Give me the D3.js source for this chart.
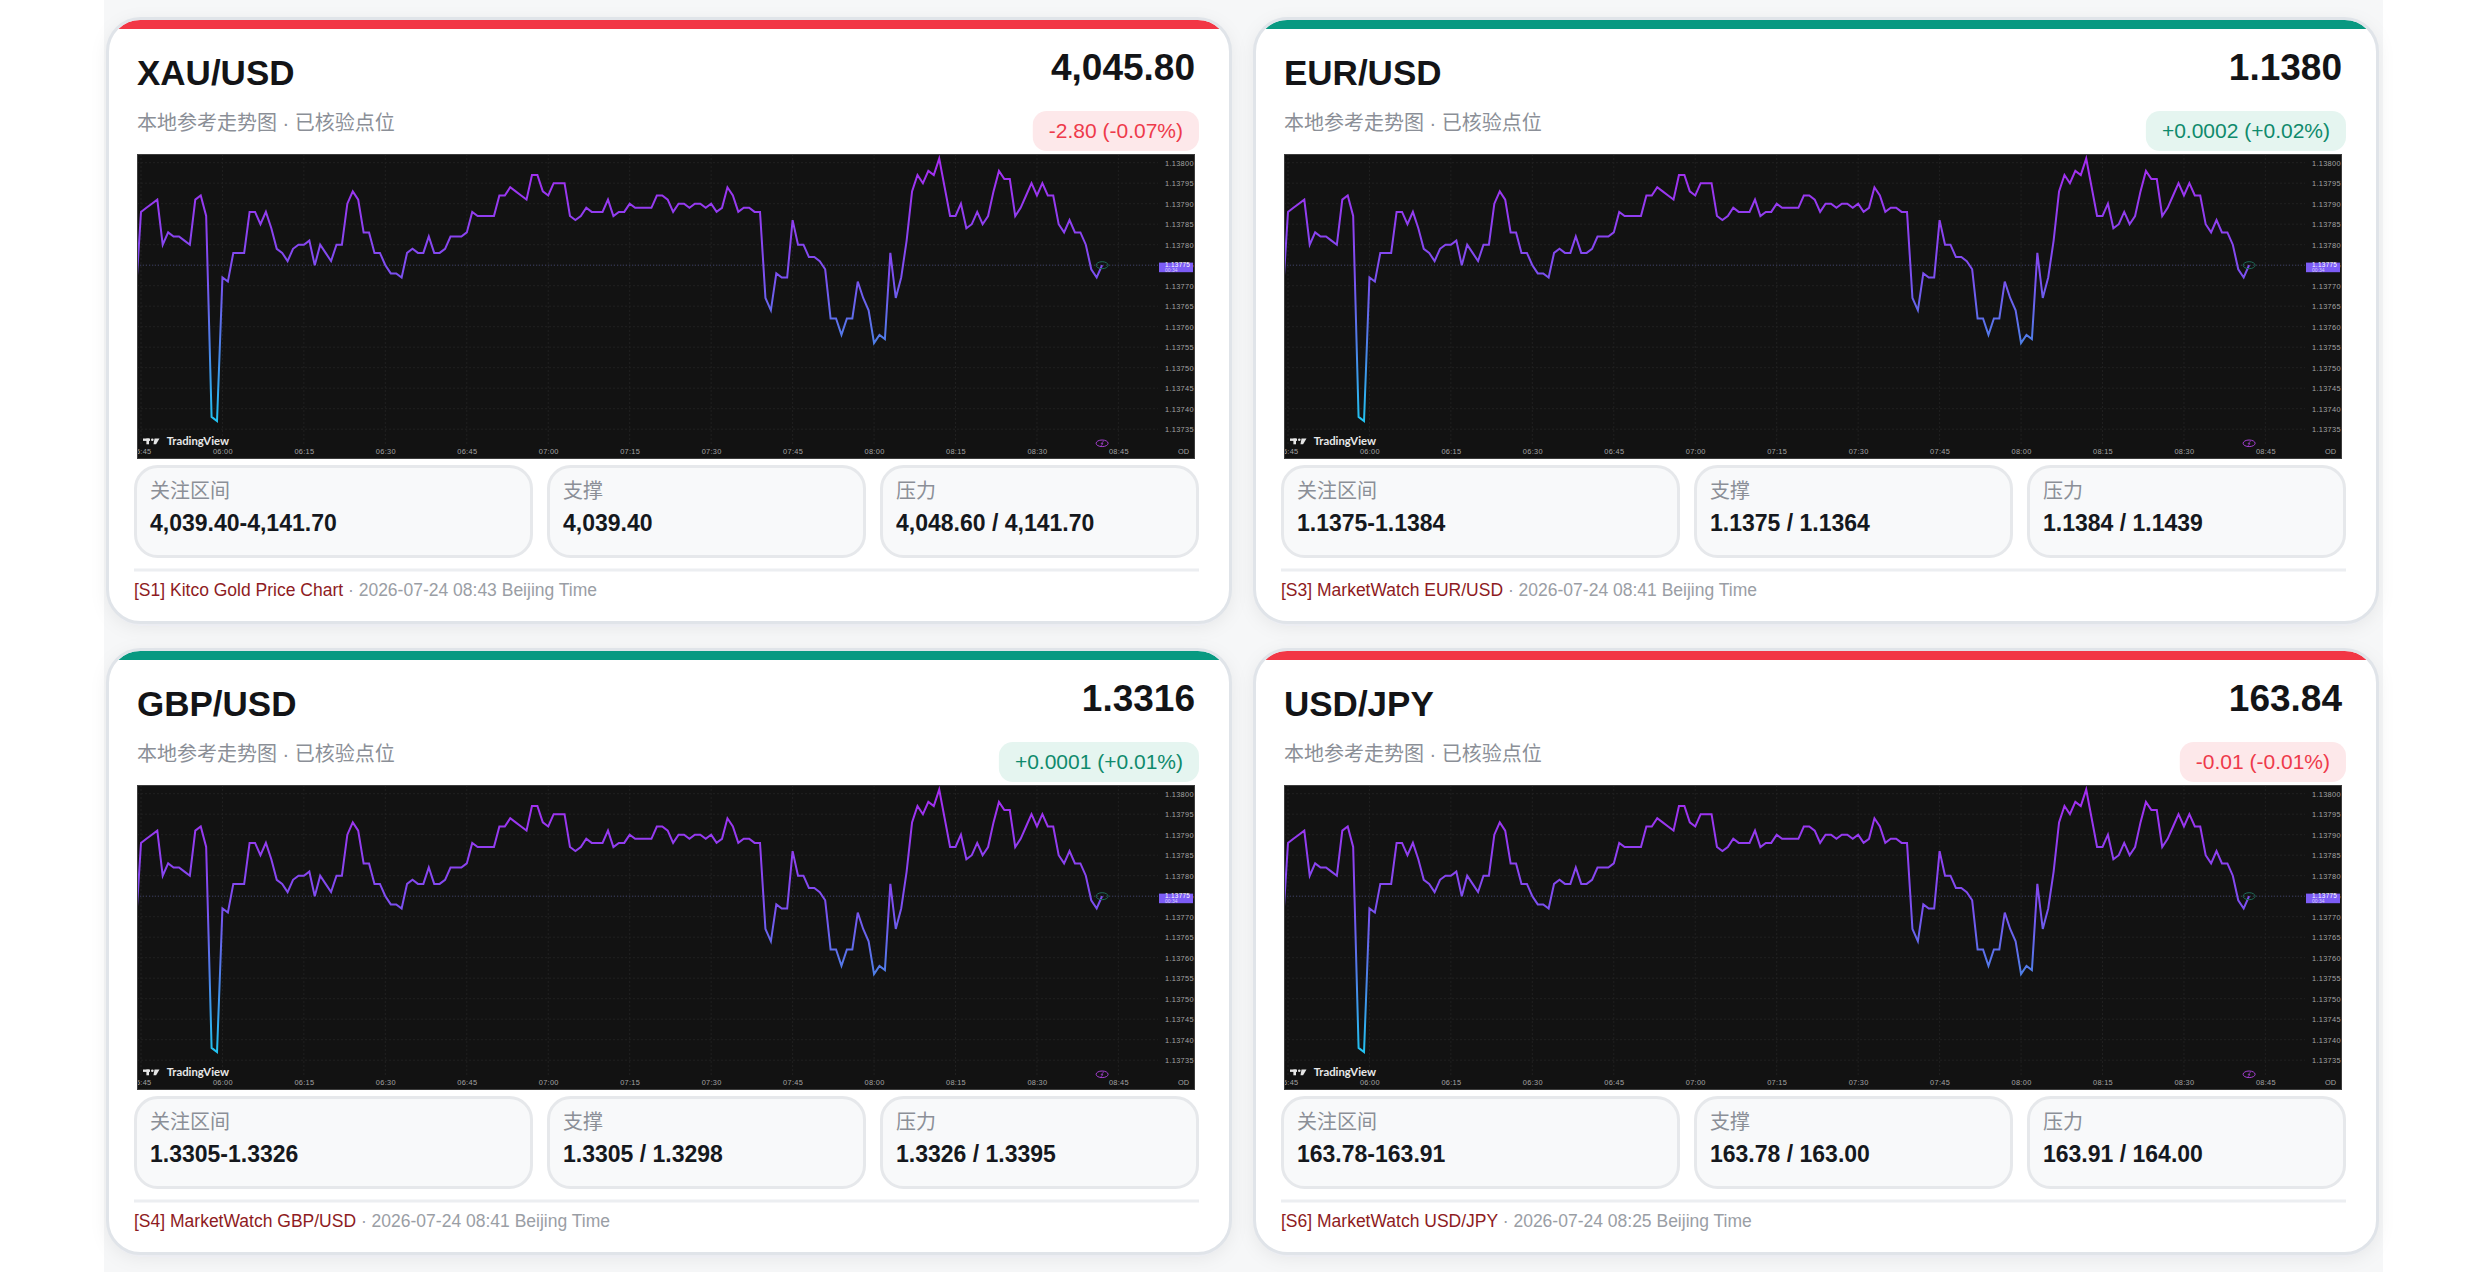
<!DOCTYPE html>
<html>
<head>
<meta charset="utf-8">
<script src="https://cdn.jsdelivr.net/npm/d3@7"></script>
<style>
body{margin:0;background:#fff}
svg{display:block}
</style>
</head>
<body>
<script>
// card content
const pairs = ['XAU/USD', 'EUR/USD', 'GBP/USD', 'USD/JPY']
const prices = ['4,045.80', '1.1380', '1.3316', '163.84']
const changes = ['-2.80 (-0.07%)', '+0.0002 (+0.02%)', '+0.0001 (+0.01%)', '-0.01 (-0.01%)']
const directions = ['down', 'up', 'up', 'down']
const zoneRanges = ['4,039.40-4,141.70', '1.1375-1.1384', '1.3305-1.3326', '163.78-163.91']
const supports = ['4,039.40', '1.1375 / 1.1364', '1.3305 / 1.3298', '163.78 / 163.00']
const resistances = ['4,048.60 / 4,141.70', '1.1384 / 1.1439', '1.3326 / 1.3395', '163.91 / 164.00']
const sources = ['[S1] Kitco Gold Price Chart', '[S3] MarketWatch EUR/USD', '[S4] MarketWatch GBP/USD', '[S6] MarketWatch USD/JPY']
const stamps = ['2026-07-24 08:43', '2026-07-24 08:41', '2026-07-24 08:41', '2026-07-24 08:25']
const boxLabels = ['关注区间', '支撑', '压力']

// the embedded 1-minute trend line (same picture in every card)
const lineStart = '05:44'
const lineValues = [
  1.13767, 1.13788, 1.13789, 1.13790, 1.13791, 1.13780, 1.13783, 1.13782, 1.13782, 1.13781,
  1.13780, 1.13791, 1.13792, 1.13787, 1.13738, 1.13737, 1.13772, 1.13771, 1.13778, 1.13778,
  1.13778, 1.13788, 1.13788, 1.13785, 1.13788, 1.13784, 1.13779, 1.13778, 1.13776, 1.13779,
  1.13780, 1.13780, 1.13781, 1.13775, 1.13780, 1.13778, 1.13776, 1.13780, 1.13780, 1.13790,
  1.13793, 1.13791, 1.13783, 1.13783, 1.13778, 1.13778, 1.13775, 1.13773, 1.13773, 1.13772,
  1.13778, 1.13779, 1.13778, 1.13778, 1.13782, 1.13778, 1.13778, 1.13779, 1.13782, 1.13782,
  1.13782, 1.13783, 1.13788, 1.13787, 1.13787, 1.13787, 1.13787, 1.13792, 1.13792, 1.13794,
  1.13793, 1.13792, 1.13791, 1.13797, 1.13797, 1.13793, 1.13792, 1.13795, 1.13795, 1.13795,
  1.13787, 1.13786, 1.13787, 1.13789, 1.13788, 1.13788, 1.13788, 1.13791, 1.13787, 1.13788,
  1.13788, 1.13790, 1.13789, 1.13789, 1.13789, 1.13789, 1.13792, 1.13792, 1.13791, 1.13788,
  1.13790, 1.13790, 1.13789, 1.13790, 1.13790, 1.13789, 1.13790, 1.13788, 1.13789, 1.13794,
  1.13792, 1.13788, 1.13789, 1.13789, 1.13788, 1.13788, 1.13767, 1.13764, 1.13773, 1.13772,
  1.13772, 1.13786, 1.13780, 1.13780, 1.13777, 1.13777, 1.13776, 1.13774, 1.13762, 1.13762,
  1.13758, 1.13762, 1.13762, 1.13771, 1.13767, 1.13764, 1.13756, 1.13758, 1.13757, 1.13778,
  1.13767, 1.13772, 1.13781, 1.13793, 1.13797, 1.13795, 1.13798, 1.13797, 1.13801, 1.13794,
  1.13787, 1.13787, 1.13790, 1.13784, 1.13785, 1.13788, 1.13785, 1.13787, 1.13793, 1.13798,
  1.13796, 1.13796, 1.13787, 1.13789, 1.13792, 1.13795, 1.13792, 1.13795, 1.13792, 1.13792,
  1.13785, 1.13783, 1.13786, 1.13783, 1.13783, 1.13780, 1.13774, 1.13772, 1.13775
]
const priceTicks = [1.13800, 1.13795, 1.13790, 1.13785, 1.13780, 1.13775, 1.13770, 1.13765, 1.13760, 1.13755, 1.13750, 1.13745, 1.13740, 1.13735]
const timeTicks = ['05:45', '06:00', '06:15', '06:30', '06:45', '07:00', '07:15', '07:30', '07:45', '08:00', '08:15', '08:30', '08:45']
const lastPrice = 1.13775

const W = 2480, H = 1272
const CARD_W = 1126, CARD_H = 607
const colX = [106, 1253], rowY = [17, 648]
const CW = 1058, CH = 305
const RED = '#f23645', GREEN = '#089981'
const FONT = '"Liberation Sans", Arial, "Noto Sans CJK SC", sans-serif'

const parseT = d3.timeParse('%H:%M')
const t0 = parseT(lineStart)
const points = lineValues.map((v, i) => ({t: d3.timeMinute.offset(t0, i), v: v}))

const x = d3.scaleTime().domain([parseT('05:45'), parseT('08:45')]).range([4, 981.4])
const y = d3.scaleLinear().domain([1.13735, 1.13800]).range([275.2, 8.7])

var svg = d3.select('body').append('svg').attr('width', W).attr('height', H)
var defs = svg.append('defs')

var shadow = defs.append('filter').attr('id', 'shadow').attr('x', '-5%').attr('y', '-5%').attr('width', '110%').attr('height', '115%')
shadow.append('feDropShadow').attr('dx', 0).attr('dy', 4).attr('stdDeviation', 9)
      .attr('flood-color', '#1c2430').attr('flood-opacity', 0.07)

defs.append('clipPath').attr('id', 'cardClip').append('rect')
    .attr('x', 3).attr('y', 3).attr('width', CARD_W - 6).attr('height', CARD_H - 6).attr('rx', 31)
defs.append('clipPath').attr('id', 'chartClip').append('rect')
    .attr('width', CW).attr('height', CH)

var ext = d3.extent(lineValues)
var grad = defs.append('linearGradient').attr('id', 'lineGrad').attr('gradientUnits', 'userSpaceOnUse')
               .attr('x1', 0).attr('x2', 0).attr('y1', y(ext[1])).attr('y2', y(ext[0]))
grad.append('stop').attr('offset', 0).attr('stop-color', '#a62cf0')
grad.append('stop').attr('offset', 0.45).attr('stop-color', '#7b50f0')
grad.append('stop').attr('offset', 0.7).attr('stop-color', '#4f7ee8')
grad.append('stop').attr('offset', 1).attr('stop-color', '#22c2f0')

// page container
svg.append('rect').attr('x', 104).attr('y', 0).attr('width', 2279).attr('height', H).attr('fill', '#f6f7f8')

function drawChart(g) {
	g.append('rect').attr('width', CW).attr('height', CH).attr('fill', '#121212')
	var plot = g.append('g').attr('clip-path', 'url(#chartClip)')

	plot.selectAll('line.hgrid').data(priceTicks).join('line').attr('class', 'hgrid')
	    .attr('x1', 0).attr('x2', 1021).attr('y1', d => y(d)).attr('y2', d => y(d))
	    .attr('stroke', '#202020').attr('stroke-dasharray', '2 2')
	plot.selectAll('line.vgrid').data(timeTicks).join('line').attr('class', 'vgrid')
	    .attr('x1', d => x(parseT(d))).attr('x2', d => x(parseT(d))).attr('y1', 0).attr('y2', 292)
	    .attr('stroke', '#202020').attr('stroke-dasharray', '2 2')

	plot.append('line').attr('x1', 0).attr('x2', 1021).attr('y1', y(lastPrice)).attr('y2', y(lastPrice))
	    .attr('stroke', '#3a3d66').attr('stroke-dasharray', '1 2')

	var line = d3.line().x(d => x(d.t)).y(d => y(d.v))
	plot.append('path').datum(points).attr('d', line)
	    .attr('fill', 'none').attr('stroke', 'url(#lineGrad)').attr('stroke-width', 2)
	    .attr('stroke-linejoin', 'miter')

	var last = points[points.length - 1]
	plot.append('ellipse').attr('cx', x(last.t)).attr('cy', y(last.v)).attr('rx', 6).attr('ry', 3.5)
	    .attr('fill', 'none').attr('stroke', '#1f6b58').attr('stroke-width', 1)
	plot.append('ellipse').attr('cx', x(last.t)).attr('cy', 289.3).attr('rx', 6).attr('ry', 3.3)
	    .attr('fill', 'none').attr('stroke', '#a53fd2').attr('stroke-width', 1)
	plot.append('path').attr('d', 'M' + (x(last.t) + 1.5) + ',287 l-2.5,2.6 h2 l-2.5,2.4')
	    .attr('fill', 'none').attr('stroke', '#a53fd2').attr('stroke-width', 0.8)

	// TradingView mark
	var logo = plot.append('g').attr('fill', '#e6e6e6')
	logo.append('rect').attr('x', 6).attr('y', 284.5).attr('width', 7).attr('height', 2.4)
	logo.append('rect').attr('x', 9.4).attr('y', 284.5).attr('width', 2.6).attr('height', 5.8)
	logo.append('circle').attr('cx', 15.3).attr('cy', 285.8).attr('r', 1.3)
	logo.append('path').attr('d', 'M17.5,284.5 h5 l-3.4,5.8 h-2.6 z')
	plot.append('text').attr('x', 29.7).attr('y', 290.8).text('TradingView')
	    .attr('fill', '#e8e8e8').attr('font-family', 'Lato, "Liberation Sans", sans-serif')
	    .attr('font-weight', 700).attr('font-size', 11.3)

	// axes
	var xAxis = d3.axisBottom(x).tickValues(timeTicks.map(parseT)).tickFormat(d3.timeFormat('%H:%M'))
	              .tickSize(0).tickPadding(0)
	var xg = plot.append('g').attr('transform', 'translate(0,295)').call(xAxis)
	var yAxis = d3.axisRight(y).tickValues(priceTicks).tickFormat(d3.format('.5f')).tickSize(0).tickPadding(0)
	var yg = plot.append('g').attr('transform', 'translate(1028,0)').call(yAxis)
	;[xg, yg].forEach(a => {
		a.select('.domain').remove()
		a.selectAll('text').attr('fill', '#a3a3a3').attr('font-size', 7.4)
		 .attr('font-family', FONT).attr('letter-spacing', 0.3)
	})
	yg.selectAll('text').attr('text-anchor', 'start')
	plot.append('text').attr('x', 1041).attr('y', 300.3).text('OD')
	    .attr('fill', '#a3a3a3').attr('font-size', 7.4).attr('font-family', FONT)

	// last price tag
	var ty = y(lastPrice)
	plot.append('rect').attr('x', 1022).attr('y', ty - 2.6).attr('width', 34).attr('height', 9.6).attr('fill', '#7c5cf6')
	plot.append('text').attr('x', 1028).attr('y', ty + 2.2).text(d3.format('.5f')(lastPrice))
	    .attr('fill', '#fff').attr('font-size', 6.4).attr('font-family', FONT).attr('letter-spacing', 0.3)
	plot.append('text').attr('x', 1028).attr('y', ty + 6.4).text('00:34')
	    .attr('fill', '#d8cffc').attr('font-size', 5).attr('font-family', FONT)

	g.append('rect').attr('x', 0.5).attr('y', 0.5).attr('width', CW - 1).attr('height', CH - 1)
	 .attr('fill', 'none').attr('stroke', '#3c3c3c').attr('stroke-width', 1)
}

const boxX = [28, 441, 774], boxW = [399, 319, 319]

pairs.forEach(function (pair, i) {
	var col = i % 2, row = Math.floor(i / 2)
	var up = directions[i] == 'up'
	var card = svg.append('g').attr('transform', 'translate(' + colX[col] + ',' + rowY[row] + ')')
	              .attr('font-family', FONT)

	card.append('rect').attr('x', 1.5).attr('y', 1.5).attr('width', CARD_W - 3).attr('height', CARD_H - 3)
	    .attr('rx', 33).attr('fill', '#fff').attr('filter', 'url(#shadow)')
	card.append('rect').attr('x', 0).attr('y', 3).attr('width', CARD_W).attr('height', 9)
	    .attr('fill', up ? GREEN : RED).attr('clip-path', 'url(#cardClip)')
	card.append('rect').attr('x', 1.5).attr('y', 1.5).attr('width', CARD_W - 3).attr('height', CARD_H - 3)
	    .attr('rx', 33).attr('fill', 'none').attr('stroke', '#e0e4e9').attr('stroke-width', 3)

	card.append('text').attr('x', 31).attr('y', 68).text(pair)
	    .attr('font-size', 35).attr('font-weight', 700).attr('fill', '#131417')
	card.append('text').attr('x', 1089).attr('y', 63).attr('text-anchor', 'end').text(prices[i])
	    .attr('font-size', 37).attr('font-weight', 700).attr('fill', '#131417')
	card.append('text').attr('x', 31).attr('y', 113).text('本地参考走势图 · 已核验点位')
	    .attr('font-size', 20).attr('fill', '#8b8f97')

	var badge = card.append('g')
	var bRect = badge.append('rect').attr('y', 94).attr('height', 40).attr('rx', 14)
	                 .attr('fill', up ? '#e5f5f0' : '#fde8ea')
	var bText = badge.append('text').attr('y', 121).attr('text-anchor', 'middle').text(changes[i])
	                 .attr('font-size', 21).attr('fill', up ? '#0f8a6c' : '#ee3a4b')
	var bw = bText.node().getComputedTextLength() + 32
	bRect.attr('x', 1093 - bw).attr('width', bw)
	bText.attr('x', 1093 - bw / 2)

	drawChart(card.append('g').attr('transform', 'translate(31,137)'))

	var vals = [zoneRanges[i], supports[i], resistances[i]]
	boxX.forEach(function (bx, j) {
		card.append('rect').attr('x', bx + 1.5).attr('y', 449.5).attr('width', boxW[j] - 3).attr('height', 90)
		    .attr('rx', 22).attr('fill', '#f8f9fa').attr('stroke', '#e6e8eb').attr('stroke-width', 3)
		card.append('text').attr('x', bx + 16).attr('y', 481).text(boxLabels[j])
		    .attr('font-size', 20).attr('fill', '#8b8f97')
		card.append('text').attr('x', bx + 16).attr('y', 514).text(vals[j])
		    .attr('font-size', 23).attr('font-weight', 700).attr('fill', '#15181d')
	})

	card.append('line').attr('x1', 28).attr('x2', 1093).attr('y1', 553).attr('y2', 553)
	    .attr('stroke', '#eceef1').attr('stroke-width', 3)
	var foot = card.append('text').attr('x', 28).attr('y', 579).attr('font-size', 17.5)
	foot.append('tspan').text(sources[i]).attr('fill', '#8e1b22')
	foot.append('tspan').text(' · ' + stamps[i] + ' Beijing Time').attr('fill', '#9a9ea5')
})
</script>
</body>
</html>
